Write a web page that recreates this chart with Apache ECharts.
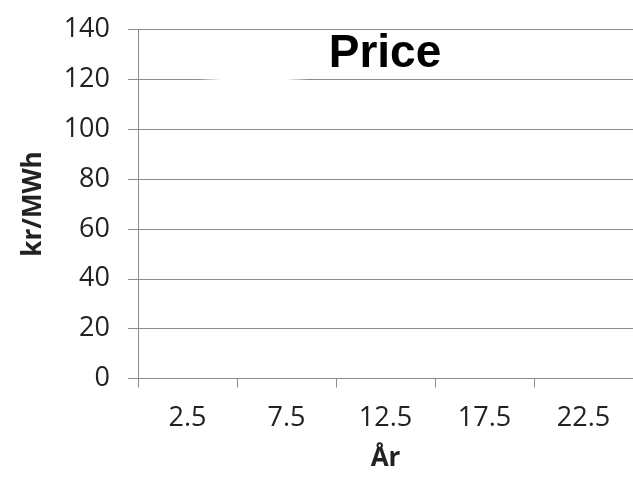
<!DOCTYPE html>
<html>
<head>
<meta charset="utf-8">
<script src="https://cdn.jsdelivr.net/npm/echarts@6/dist/echarts.min.js"></script>
<style>
html,body{margin:0;padding:0;background:#fff;}
#chart{width:633px;height:479px;}
</style>
</head>
<body>
<div id="chart"></div>
<script>
var categories = ['2.5', '7.5', '12.5', '17.5', '22.5'];
var priceValues = [121.1, 119.3, 117.5, 115.7, 113.9];
var yMin = 0, yMax = 140, yStep = 20;
var titleText = 'Price';
var xName = 'År';
var yName = 'kr/MWh';

var chart = echarts.init(document.getElementById('chart'), null, {renderer: 'canvas'});
var labelFont = '"Open Sans", sans-serif';
chart.setOption({
  animation: false,
  backgroundColor: '#ffffff',
  title: {
    text: titleText,
    left: 380, top: 26, textAlign: 'center',
    textStyle: {fontFamily: '"Liberation Sans", Arial, sans-serif', fontWeight: 'bold', fontSize: 46, color: '#000'}
  },
  grid: {left: 138, right: 0, top: 29.5, bottom: 100.5, containLabel: false},
  xAxis: {
    type: 'category',
    data: categories,
    boundaryGap: true,
    name: xName, nameLocation: 'middle', nameGap: 67,
    nameTextStyle: {fontFamily: labelFont, fontWeight: 'bold', fontSize: 26, color: '#222'},
    axisLine: {lineStyle: {color: '#8c8c8c', width: 1}},
    axisTick: {show: true, length: 9, lineStyle: {color: '#8c8c8c'}},
    axisLabel: {margin: 26, fontFamily: labelFont, fontSize: 27, color: '#222'},
    splitLine: {show: false}
  },
  yAxis: {
    type: 'value',
    min: yMin, max: yMax, interval: yStep,
    name: yName, nameLocation: 'middle', nameGap: 91,
    nameTextStyle: {fontFamily: labelFont, fontWeight: 'bold', fontSize: 26, color: '#222'},
    axisLine: {show: true, lineStyle: {color: '#8c8c8c', width: 1}},
    axisTick: {show: true, length: 10, lineStyle: {color: '#8c8c8c'}},
    axisLabel: {margin: 28, fontFamily: labelFont, fontSize: 27, color: '#222'},
    splitLine: {show: true, lineStyle: {color: '#8c8c8c', width: 1}}
  },
  series: [{
    type: 'line',
    data: priceValues,
    symbol: 'none',
    lineStyle: {color: '#ffffff', width: 4},
    itemStyle: {color: '#ffffff'},
    z: 5
  }]
});
</script>
</body>
</html>
